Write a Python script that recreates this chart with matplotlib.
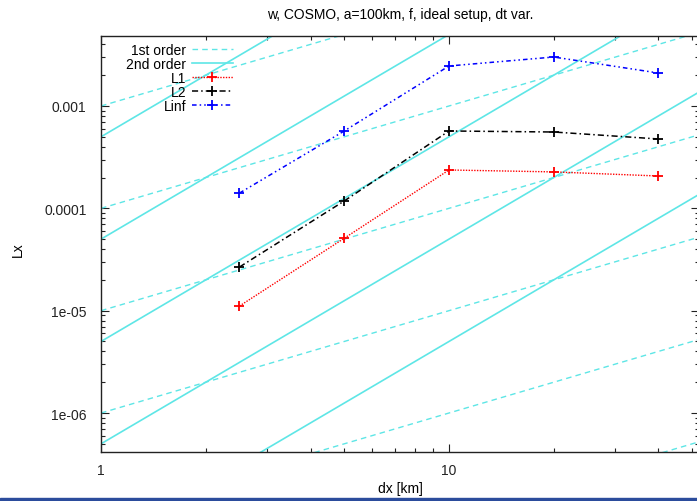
import numpy as np
import matplotlib.pyplot as plt
from matplotlib.ticker import FixedLocator, FixedFormatter, NullFormatter
from matplotlib.patches import Rectangle

plt.rcParams['font.family'] = ['Liberation Sans', 'DejaVu Sans']
plt.rcParams['font.size'] = 10

# grid spacing and error norms
dx = [2.5, 5, 10, 20, 40]
l1 = [1.11e-5, 5.1e-5, 2.37e-4, 2.27e-4, 2.07e-4]
l2 = [2.67e-5, 1.18e-4, 5.7e-4, 5.57e-4, 4.76e-4]
linf = [1.41e-4, 5.7e-4, 2.46e-3, 3.01e-3, 2.10e-3]

# coefficients of the convergence reference lines c*dx and c*dx^2
first_order = [1e-3, 1e-4, 1e-5, 1e-6, 1e-7, 1e-8]
second_order = [5e-3, 5e-4, 5e-5, 5e-6, 5e-7, 5e-8]

ytick_vals = [1e-6, 1e-5, 1e-4, 1e-3]
ytick_labels = ['1e-06', '1e-05', '0.0001', '0.001']
xtick_vals = [1, 10]
xtick_labels = ['1', '10']

xmin, xmax = 1, 52.3
ymin, ymax = 4.16e-7, 4.83e-3
cyan = '#5ee6e6'

fig = plt.figure(figsize=(6.97, 5.02), dpi=100)
ax = fig.add_axes([101/697, 49/502, 598/697, 416/502])

xs = np.logspace(0, np.log10(xmax), 60)
h1 = h2 = None
for c in first_order:
    h1, = ax.plot(xs, c * xs, color=cyan, lw=1.0, ls=(0, (4, 3)))
for c in second_order:
    h2, = ax.plot(xs, c * xs**2, color=cyan, lw=1.2, ls='-')

hl1, = ax.plot(dx, l1, color='red', lw=1.0, ls=(0, (1, 1)), marker='+', ms=7, mew=1.3)
hl2, = ax.plot(dx, l2, color='black', lw=1.1, ls=(0, (4, 2, 1, 2)), marker='+', ms=7, mew=1.3)
hli, = ax.plot(dx, linf, color='blue', lw=1.1, ls=(0, (3, 2, 1, 2, 1, 2)), marker='+', ms=7, mew=1.3)

ax.set_xscale('log')
ax.set_yscale('log')
ax.set_xlim(xmin, xmax)
ax.set_ylim(ymin, ymax)

ax.xaxis.set_major_locator(FixedLocator(xtick_vals))
ax.xaxis.set_major_formatter(FixedFormatter(xtick_labels))
ax.yaxis.set_major_locator(FixedLocator(ytick_vals))
ax.yaxis.set_major_formatter(FixedFormatter(ytick_labels))
xminor = [m * 10**k for k in range(0, 2) for m in range(2, 10)]
yminor = [m * 10**k for k in range(-7, -2) for m in range(2, 10)]
ax.xaxis.set_minor_locator(FixedLocator(xminor))
ax.yaxis.set_minor_locator(FixedLocator(yminor))
ax.xaxis.set_minor_formatter(NullFormatter())
ax.yaxis.set_minor_formatter(NullFormatter())
ax.tick_params(which='both', direction='in', top=True, right=True, width=0.8, colors='#222222')
ax.tick_params(which='major', length=6)
ax.tick_params(which='minor', length=3)
ax.tick_params(axis='x', which='major', pad=8)
ax.tick_params(axis='y', which='major', pad=10.5)
for s in ax.spines.values():
    s.set_color('#222222')
    s.set_linewidth(1.0)

ax.set_title('w, COSMO, a=100km, f, ideal setup, dt var.', fontsize=10, pad=13)
ax.set_xlabel('dx [km]', labelpad=3)
ax.set_ylabel('Lx')
ax.yaxis.set_label_coords(-76/598, 0.49)

leg = ax.legend([h1, h2, hl1, hl2, hli], ['1st order', '2nd order', 'L1', 'L2', 'Linf'],
                loc='upper right', bbox_to_anchor=(0.232, 1.0), markerfirst=False,
                frameon=False, borderpad=0, handlelength=2.95, handletextpad=0.4,
                labelspacing=0.0, fontsize=10)

fig.patches.append(Rectangle((0, 0), 1, 3.5/502, transform=fig.transFigure,
                             color='#2b4c9c', zorder=10))

fig.savefig('out.png', dpi=100)
